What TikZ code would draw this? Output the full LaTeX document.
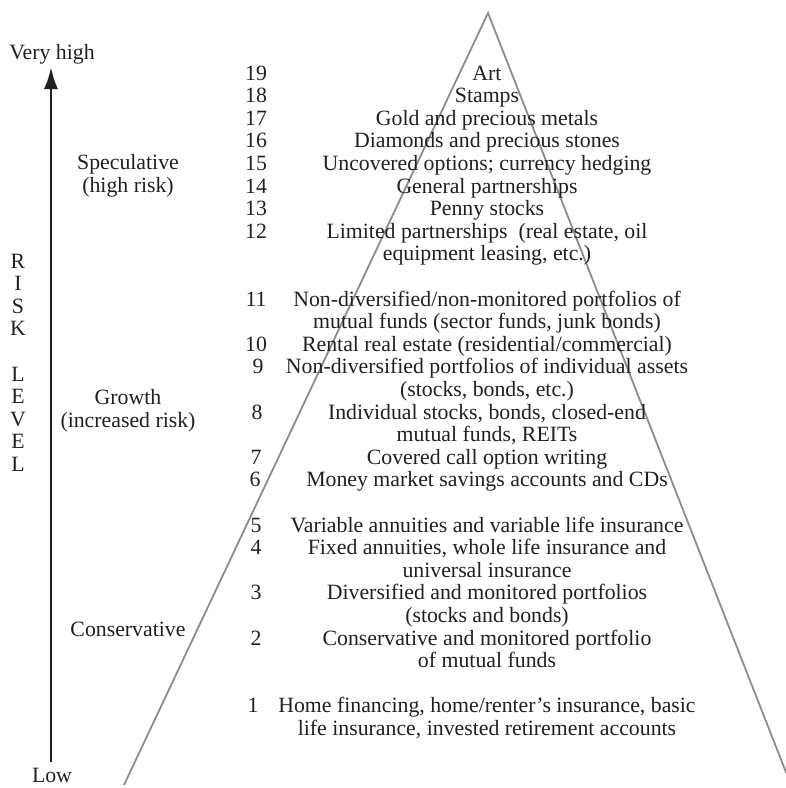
\documentclass[tikz,border=0pt]{standalone}
\usepackage{fontspec}
\setmainfont{Liberation Serif}
\usetikzlibrary{arrows.meta}
\definecolor{ink}{RGB}{35,31,32}
\definecolor{tri}{RGB}{140,140,140}
\begin{document}
\begin{tikzpicture}[x=1pt,y=-1pt,
  txt/.style={anchor=base, inner sep=0pt, font=\fontsize{21.8}{22.6}\selectfont, text=ink},
  num/.style={txt},
  side/.style={txt},
  triline/.style={draw=tri, line width=1.8pt},
  riskarrow/.style={draw=ink, line width=2.8pt, -{Latex[length=22pt,width=14pt]}}]
\useasboundingbox (0,0) rectangle (786,788);
% pyramid
\coordinate (apex) at (488,13);
\coordinate (bl) at (124,785);
\coordinate (br) at (791,785);
\begin{scope}
\clip (0,0) rectangle (786,788);
\draw[triline] (bl) -- (apex) -- (br);
\end{scope}
% risk axis
\node[side] (vhigh) at (52,59) {Very high};
\node[side] (low) at (52,782.5) {Low};
\coordinate (abot) at (51,762);
\coordinate (atop) at (51,67);
\draw[riskarrow] (abot) -- (atop);
% vertical label
\node[side] (r1) at (18,268) {R};
\node[side] (r2) at (18,290.6) {I};
\node[side] (r3) at (18,313.2) {S};
\node[side] (r4) at (18,335.8) {K};
\node[side] (r5) at (18,381) {L};
\node[side] (r6) at (18,403.6) {E};
\node[side] (r7) at (18,426.2) {V};
\node[side] (r8) at (18,448.8) {E};
\node[side] (r9) at (18,471.4) {L};
% categories
\node[side] (spec1) at (128,169) {Speculative};
\node[side] (spec2) at (128,192) {(high risk)};
\node[side] (grow1) at (128,404) {Growth};
\node[side] (grow2) at (128,427) {(increased risk)};
\node[side] (cons) at (128,636) {Conservative};
% numbers
\node[num] (n19) at (256,80) {19};
\node[num] (n18) at (256,102.6) {18};
\node[num] (n17) at (256,125.2) {17};
\node[num] (n16) at (256,147.8) {16};
\node[num] (n15) at (256,170.4) {15};
\node[num] (n14) at (256,193) {14};
\node[num] (n13) at (256,215.6) {13};
\node[num] (n12) at (256,238.2) {12};
\node[num] (n11) at (256,306) {11};
\node[num] (n10) at (256,351.2) {10};
\node[num] (n9) at (258,373.8) {9};
\node[num] (n8) at (257,419) {8};
\node[num] (n7) at (256,464.2) {7};
\node[num] (n6) at (255,486.8) {6};
\node[num] (n5) at (256,532) {5};
\node[num] (n4) at (256,554.6) {4};
\node[num] (n3) at (256,599.8) {3};
\node[num] (n2) at (256,645) {2};
\node[num] (n1) at (253,712.8) {1};
% items
\node[txt] (t19) at (487,80) {Art};
\node[txt] (t18) at (487,102.6) {Stamps};
\node[txt] (t17) at (487,125.2) {Gold and precious metals};
\node[txt] (t16) at (487,147.8) {Diamonds and precious stones};
\node[txt] (t15) at (487,170.4) {Uncovered options; currency hedging};
\node[txt] (t14) at (487,193) {General partnerships};
\node[txt] (t13) at (487,215.6) {Penny stocks};
\node[txt] (t12a) at (487,238.2) {Limited partnerships\ \ (real estate, oil};
\node[txt] (t12b) at (487,260.8) {equipment leasing, etc.)};
\node[txt] (t11a) at (487,306) {Non-diversified/non-monitored portfolios of};
\node[txt] (t11b) at (487,328.6) {mutual funds (sector funds, junk bonds)};
\node[txt] (t10) at (487,351.2) {Rental real estate (residential/commercial)};
\node[txt] (t9a) at (487,373.8) {Non-diversified portfolios of individual assets};
\node[txt] (t9b) at (487,396.4) {(stocks, bonds, etc.)};
\node[txt] (t8a) at (487,419) {Individual stocks, bonds, closed-end};
\node[txt] (t8b) at (487,441.6) {mutual funds, REITs};
\node[txt] (t7) at (487,464.2) {Covered call option writing};
\node[txt] (t6) at (487,486.8) {Money market savings accounts and CDs};
\node[txt] (t5) at (487,532) {Variable annuities and variable life insurance};
\node[txt] (t4a) at (487,554.6) {Fixed annuities, whole life insurance and};
\node[txt] (t4b) at (487,577.2) {universal insurance};
\node[txt] (t3a) at (487,599.8) {Diversified and monitored portfolios};
\node[txt] (t3b) at (487,622.4) {(stocks and bonds)};
\node[txt] (t2a) at (487,645) {Conservative and monitored portfolio};
\node[txt] (t2b) at (487,667.6) {of mutual funds};
\node[txt] (t1a) at (487,712.8) {Home financing, home/renter’s insurance, basic};
\node[txt] (t1b) at (487,735.4) {life insurance, invested retirement accounts};
\end{tikzpicture}
\end{document}
